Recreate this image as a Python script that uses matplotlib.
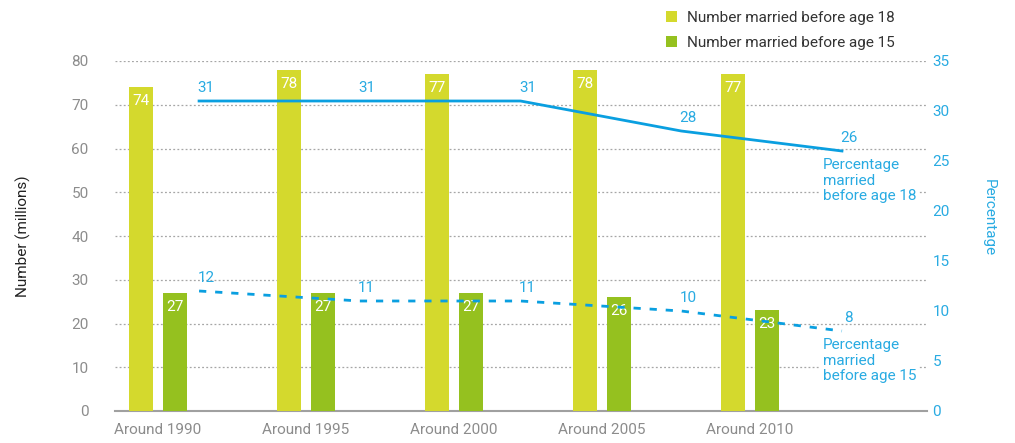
import matplotlib
matplotlib.use("Agg")
import matplotlib.pyplot as plt
import numpy as np

# Data
periods = ["Around 1990", "Around 1995", "Around 2000", "Around 2005", "Around 2010"]
married_before_18 = [74, 78, 77, 78, 77]        # millions
married_before_15 = [27, 27, 27, 26, 23]        # millions
pct_before_18 = [31, 31, 31, 28, 26]            # percent
pct_before_15 = [12, 11, 11, 10, 8]             # percent

YELLOW = "#d4d92d"
GREEN = "#95c11f"
BLUE = "#0a9fe0"
TEXT_BLUE = "#29abe2"
GRAY = "#8c8c8c"
GRID = "#a6a6a6"
FS = 11

plt.rcParams["font.family"] = ["Roboto", "DejaVu Sans"]

fig = plt.figure(figsize=(10.15, 4.43), dpi=100)
W, H = 1015, 443
x0, x1, y0, y1 = 115, 927, 411, 61
rect = [x0 / W, 1 - y0 / H, (x1 - x0) / W, (y0 - y1) / H]

# Bar axes (left scale)
ax = fig.add_axes(rect)
idx = np.arange(len(periods))
bw = 0.162
off = 0.115
b18 = ax.bar(idx - off, married_before_18, bw, color=YELLOW, zorder=3,
             label="Number married before age 18")
b15 = ax.bar(idx + off, married_before_15, bw, color=GREEN, zorder=3,
             label="Number married before age 15")
ax.set_xlim(-0.29, 5.196)
ax.set_ylim(0, 80)
ax.set_yticks(range(0, 81, 10))
ax.set_xticks(idx)
ax.set_xticklabels(periods, fontsize=FS, color=GRAY)
ax.tick_params(axis="x", length=0, pad=9)
ax.tick_params(axis="y", length=0, pad=19, labelsize=FS, labelcolor=GRAY)
for s in ["top", "right", "left"]:
    ax.spines[s].set_visible(False)
ax.spines["bottom"].set_color("#a0a0a0")
ax.spines["bottom"].set_linewidth(1.5)
ax.yaxis.grid(True, color=GRID, linestyle=(0, (1.5, 1.8)), linewidth=0.9, zorder=0)
ax.set_axisbelow(True)
ax.set_ylabel("Number (millions)", fontsize=FS, color="#222222")
ax.yaxis.set_label_coords((31 - x0) / (x1 - x0), 0.5)

for bars, vals in ((b18, married_before_18), (b15, married_before_15)):
    for rct, v in zip(bars, vals):
        ax.annotate(f"{v}", (rct.get_x() + rct.get_width() / 2, v),
                    xytext=(0, -5), textcoords="offset points",
                    ha="center", va="top", color="white", fontsize=FS, zorder=4)

# Line axes (right scale), own category spacing
lx = fig.add_axes(rect, frameon=False)
lx.set_xlim(-0.523, 4.529)
lx.set_ylim(0, 35)
lx.set_xticks([])
lx.yaxis.tick_right()
lx.yaxis.set_label_position("right")
lx.set_yticks(range(0, 36, 5))
lx.tick_params(axis="y", length=0, pad=4, labelsize=FS, labelcolor=TEXT_BLUE)
lx.set_ylabel("Percentage", fontsize=FS, color=TEXT_BLUE, rotation=-90,
              va="center", ha="center")
lx.yaxis.set_label_coords((989 - x0) / (x1 - x0), (411 - 218) / (y0 - y1))

li = np.arange(len(pct_before_18))
lx.plot(li, pct_before_18, color=BLUE, linewidth=2, zorder=5)
lx.plot(li, pct_before_15, color=BLUE, linewidth=2, linestyle=(0, (2.6, 3.2)), zorder=5)

for i, v in enumerate(pct_before_18):
    lx.annotate(f"{v}", (i, v), xytext=(5, 4), textcoords="offset points",
                ha="center", va="bottom", color=TEXT_BLUE, fontsize=FS, zorder=6)
for i, v in enumerate(pct_before_15):
    lx.annotate(f"{v}", (i, v), xytext=(5, 4), textcoords="offset points",
                ha="center", va="bottom", color=TEXT_BLUE, fontsize=FS, zorder=6)

box = dict(facecolor="white", edgecolor="none", pad=1.5)
lx.annotate("Percentage\nmarried\nbefore age 18", (4, pct_before_18[-1]),
            xytext=(-14, -5), textcoords="offset points", ha="left", va="top",
            color=TEXT_BLUE, fontsize=FS, linespacing=1.15, bbox=box, zorder=4)
lx.annotate("Percentage\nmarried\nbefore age 15", (4, pct_before_15[-1]),
            xytext=(-14, -5), textcoords="offset points", ha="left", va="top",
            color=TEXT_BLUE, fontsize=FS, linespacing=1.15, bbox=box, zorder=4)

fig.legend(handles=[b18, b15], loc="upper left", bbox_to_anchor=(663 / W, 1 - 8 / H),
           frameon=False, fontsize=FS, handlelength=0.7, handleheight=0.7,
           handletextpad=0.7, labelspacing=0.7, labelcolor="#333333",
           borderaxespad=0, borderpad=0.2)

fig.savefig("out.png", dpi=100)
